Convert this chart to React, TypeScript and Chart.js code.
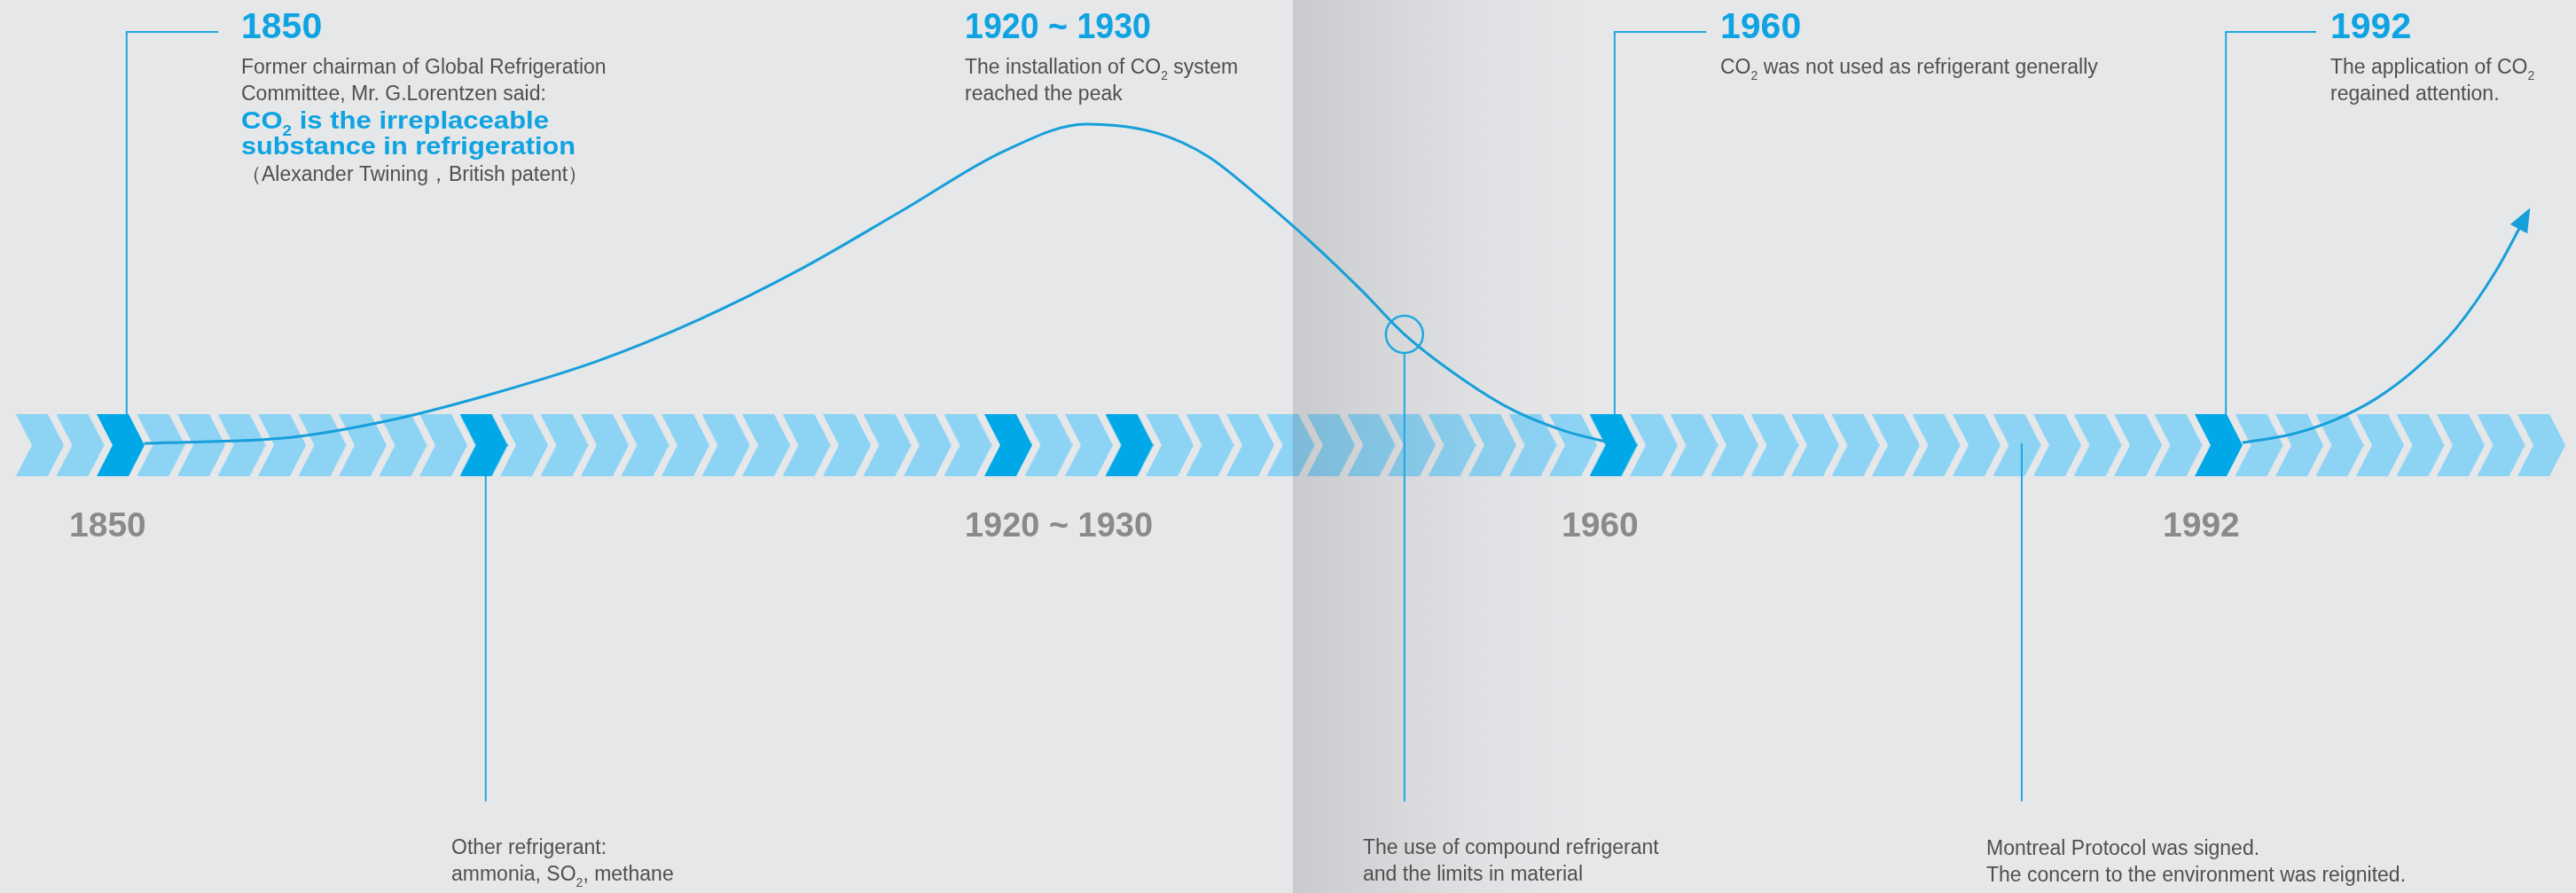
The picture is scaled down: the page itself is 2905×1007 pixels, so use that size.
import React, { useEffect, useRef } from "react";
import { Chart, registerables } from "chart.js";

Chart.register(...registerables);

// ---------------- data ----------------
// x axis unit = one chevron step of the timeline band; y axis unit = "installation level" (0 = timeline)
const CHEVRON_STEPS = [
  0, 1, 2, 3, 4, 5, 6, 7, 8, 9, 10, 11, 12, 13, 14, 15, 16, 17, 18, 19, 20,
  21, 22, 23, 24, 25, 26, 27, 28, 29, 30, 31, 32, 33, 34, 35, 36, 37, 38, 39,
  40, 41, 42, 43, 44, 45, 46, 47, 48, 49, 50, 51, 52, 53, 54, 55, 56, 57, 58,
  59, 60, 61, 62,
];
const HIGHLIGHT_STEPS = [2, 11, 24, 27, 39, 54];

const MILESTONE_LABELS = ["1850", "1920 ~ 1930", "1960", "1992"];

// rise and fall of CO2 use, 1850 -> 1960
const RISE_STEP = [
  2.59, 6.26, 8.77, 11.3, 13.82, 16.35, 18.88, 21.39, 23.91, 25.93, 27.69,
  28.97, 30.22, 31.5, 32.75, 33.82, 35.28, 36.53, 37.8, 38.81,
];
const RISE_LEVEL = [
  0.55, 2.5, 8.0, 16.3, 26.2, 39.2, 55.0, 73.2, 91.7, 100, 97.2, 89.8, 77.3,
  63.3, 48.3, 34.5, 20.4, 10.8, 4.4, 1.1,
];
// revival after 1992
const REVIVAL_STEP = [54.59, 55.78, 56.9, 57.89, 58.86, 59.89, 60.88, 61.69];
const REVIVAL_LEVEL = [0.8, 3.3, 8.0, 14.4, 23.5, 36.5, 54.4, 73.2];

// marked point on the decline (compound refrigerants)
const MARK_STEP = [33.82];
const MARK_LEVEL = [34.5];

// callout leader lines (top)
const CALLOUT_1850_STEP = [2.15, 2.15, 4.42];
const CALLOUT_1960_STEP = [39.03, 39.03, 41.3];
const CALLOUT_1992_STEP = [54.18, 54.18, 56.42];
const CALLOUT_LEVEL = [9.67, 128.7, 128.7];

// drop lines (bottom)
const DROP_OTHER_STEP = [11.05, 11.05];
const DROP_OTHER_LEVEL = [-9.67, -111];
const DROP_COMPOUND_STEP = [33.82, 33.82];
const DROP_COMPOUND_LEVEL = [28.7, -111];
const DROP_MONTREAL_STEP = [49.12, 49.12];
const DROP_MONTREAL_LEVEL = [0.55, -111];

// ---------------- styling ----------------
const W = 2905;
const H = 1007;
const FONT = '"Liberation Sans", Arial, Helvetica, sans-serif';
const BG = "#e5e7e9";
const LIGHT = "#8dd3f4";
const DARK = "#00a8e8";
const CURVE = "#169fda";
const LEADER = "#1ea8e2";
const TITLE_BLUE = "#0fa3e2";
const TEXT_GREY = "#505050";
const YEAR_GREY = "#8a8a8b";

const X_MIN = -45 / 45.5;
const X_MAX = (W - 45) / 45.5;
const Y_MAX = 502 / 3.62;
const Y_MIN = -(H - 502) / 3.62;

const zip = (xs: number[], ys: number[]) => xs.map((x, i) => ({ x, y: ys[i] }));

type TextItem = {
  x: number;
  y: number;
  text: string;
  size: number;
  bold?: boolean;
  color: string;
  fit?: number;
};

const TEXTS: TextItem[] = [
  { x: 272, y: 43, text: MILESTONE_LABELS[0], size: 41, bold: true, color: TITLE_BLUE },
  { x: 272, y: 83, text: "Former chairman of Global Refrigeration", size: 23, color: TEXT_GREY },
  { x: 272, y: 113, text: "Committee, Mr. G.Lorentzen said:", size: 23, color: TEXT_GREY },
  { x: 272, y: 145, text: "CO{2} is the irreplaceable", size: 28, bold: true, color: TITLE_BLUE, fit: 347 },
  { x: 272, y: 174, text: "substance in refrigeration", size: 28, bold: true, color: TITLE_BLUE, fit: 377 },
  { x: 272, y: 204, text: "（Alexander Twining，British patent）", size: 23, color: TEXT_GREY },

  { x: 1088, y: 43, text: MILESTONE_LABELS[1], size: 41, bold: true, color: TITLE_BLUE, fit: 210 },
  { x: 1088, y: 83, text: "The installation of CO{2} system", size: 23, color: TEXT_GREY },
  { x: 1088, y: 113, text: "reached the peak", size: 23, color: TEXT_GREY },

  { x: 1940, y: 43, text: MILESTONE_LABELS[2], size: 41, bold: true, color: TITLE_BLUE },
  { x: 1940, y: 83, text: "CO{2} was not used as refrigerant generally", size: 23, color: TEXT_GREY },

  { x: 2628, y: 43, text: MILESTONE_LABELS[3], size: 41, bold: true, color: TITLE_BLUE },
  { x: 2628, y: 83, text: "The application of CO{2}", size: 23, color: TEXT_GREY },
  { x: 2628, y: 113, text: "regained attention.", size: 23, color: TEXT_GREY },

  { x: 78, y: 605, text: MILESTONE_LABELS[0], size: 39, bold: true, color: YEAR_GREY },
  { x: 1088, y: 605, text: MILESTONE_LABELS[1], size: 39, bold: true, color: YEAR_GREY, fit: 212 },
  { x: 1761, y: 605, text: MILESTONE_LABELS[2], size: 39, bold: true, color: YEAR_GREY },
  { x: 2439, y: 605, text: MILESTONE_LABELS[3], size: 39, bold: true, color: YEAR_GREY },

  { x: 509, y: 963, text: "Other refrigerant:", size: 23, color: TEXT_GREY },
  { x: 509, y: 993, text: "ammonia, SO{2}, methane", size: 23, color: TEXT_GREY },
  { x: 1537, y: 963, text: "The use of compound refrigerant", size: 23, color: TEXT_GREY },
  { x: 1537, y: 993, text: "and the limits in material", size: 23, color: TEXT_GREY },
  { x: 2240, y: 964, text: "Montreal Protocol was signed.", size: 23, color: TEXT_GREY },
  { x: 2240, y: 994, text: "The concern to the environment was reignited.", size: 23, color: TEXT_GREY },
];

function parseSegs(s: string) {
  const out: { t: string; sub: boolean }[] = [];
  const re = /\{([^}]*)\}/g;
  let last = 0;
  let m: RegExpExecArray | null;
  while ((m = re.exec(s))) {
    if (m.index > last) out.push({ t: s.slice(last, m.index), sub: false });
    out.push({ t: m[1], sub: true });
    last = m.index + m[0].length;
  }
  if (last < s.length) out.push({ t: s.slice(last), sub: false });
  return out;
}

function drawText(ctx: CanvasRenderingContext2D, it: TextItem) {
  const segs = parseSegs(it.text);
  const w = it.bold ? "bold" : "normal";
  const mainF = `${w} ${it.size}px ${FONT}`;
  const subF = `${w} ${Math.round(it.size * 0.6)}px ${FONT}`;
  ctx.save();
  ctx.textAlign = "left";
  ctx.textBaseline = "alphabetic";
  ctx.fillStyle = it.color;
  let total = 0;
  const widths = segs.map((sg) => {
    ctx.font = sg.sub ? subF : mainF;
    const mw = ctx.measureText(sg.t).width;
    total += mw;
    return mw;
  });
  const sx = it.fit ? it.fit / total : 1;
  ctx.translate(it.x, it.y);
  ctx.scale(sx, 1);
  let cx = 0;
  segs.forEach((sg, i) => {
    ctx.font = sg.sub ? subF : mainF;
    ctx.fillText(sg.t, cx, sg.sub ? it.size * 0.3 : 0);
    cx += widths[i];
  });
  ctx.restore();
}

function makeChevron(color: string) {
  const c = document.createElement("canvas");
  c.width = 54;
  c.height = 70;
  const g = c.getContext("2d")!;
  g.fillStyle = color;
  g.beginPath();
  g.moveTo(0, 0);
  g.lineTo(36, 0);
  g.lineTo(54, 35);
  g.lineTo(36, 70);
  g.lineTo(0, 70);
  g.lineTo(18, 35);
  g.closePath();
  g.fill();
  return c;
}

export default function App() {
  const ref = useRef<HTMLCanvasElement>(null);

  useEffect(() => {
    const canvas = ref.current;
    if (!canvas) return;
    const light = makeChevron(LIGHT);
    const dark = makeChevron(DARK);

    const leader = (data: { x: number; y: number }[]) => ({
      data,
      showLine: true,
      borderColor: LEADER,
      borderWidth: 2,
      pointRadius: 0,
      tension: 0,
      order: 2,
    });

    const CHEVRON_INDEX = 9;

    const decorPlugin = {
      id: "decor",
      beforeDraw(chart: any) {
        const ctx = chart.ctx;
        ctx.save();
        ctx.fillStyle = BG;
        ctx.fillRect(0, 0, chart.width, chart.height);
        ctx.restore();
      },
      afterDatasetDraw(chart: any, args: any) {
        if (args.index !== CHEVRON_INDEX) return;
        // page fold shadow
        const ctx = chart.ctx;
        const x0 = 1458;
        const x1 = 1790;
        const g = ctx.createLinearGradient(x0, 0, x1, 0);
        g.addColorStop(0, "rgba(40,42,48,0.15)");
        g.addColorStop(0.3, "rgba(40,42,48,0.09)");
        g.addColorStop(0.65, "rgba(40,42,48,0.03)");
        g.addColorStop(1, "rgba(40,42,48,0)");
        ctx.save();
        ctx.fillStyle = g;
        ctx.fillRect(x0, 0, x1 - x0, chart.height);
        ctx.restore();
      },
      afterDatasetsDraw(chart: any) {
        // arrow head at end of revival curve
        const meta = chart.getDatasetMeta(1);
        const pts = meta.data;
        const last = pts[pts.length - 1];
        const prev = pts[pts.length - 2];
        let dx = last.x - (last.cp1x ?? prev.x);
        let dy = last.y - (last.cp1y ?? prev.y);
        const len = Math.hypot(dx, dy) || 1;
        dx /= len;
        dy /= len;
        const ctx = chart.ctx;
        const tipX = last.x + dx * 3;
        const tipY = last.y + dy * 3;
        const bx = tipX - dx * 27;
        const by = tipY - dy * 27;
        const px = -dy;
        const py = dx;
        ctx.save();
        ctx.fillStyle = CURVE;
        ctx.beginPath();
        ctx.moveTo(tipX, tipY);
        ctx.lineTo(bx + px * 11, by + py * 11);
        ctx.lineTo(bx - px * 11, by - py * 11);
        ctx.closePath();
        ctx.fill();
        ctx.restore();
      },
      afterDraw(chart: any) {
        const ctx = chart.ctx;
        TEXTS.forEach((t) => drawText(ctx, t));
      },
    };

    const chart = new Chart(canvas, {
      type: "scatter",
      data: {
        datasets: [
          {
            data: zip(RISE_STEP, RISE_LEVEL),
            showLine: true,
            borderColor: CURVE,
            borderWidth: 3,
            pointRadius: 0,
            cubicInterpolationMode: "monotone",
            order: 1,
          },
          {
            data: zip(REVIVAL_STEP, REVIVAL_LEVEL),
            showLine: true,
            borderColor: CURVE,
            borderWidth: 3,
            pointRadius: 0,
            cubicInterpolationMode: "monotone",
            order: 1,
          },
          {
            data: zip(MARK_STEP, MARK_LEVEL),
            showLine: false,
            pointStyle: "circle",
            pointRadius: 21,
            pointBorderWidth: 2.5,
            pointBorderColor: LEADER,
            pointBackgroundColor: "rgba(0,0,0,0)",
            order: 1,
          },
          leader(zip(CALLOUT_1850_STEP, CALLOUT_LEVEL)),
          leader(zip(CALLOUT_1960_STEP, CALLOUT_LEVEL)),
          leader(zip(CALLOUT_1992_STEP, CALLOUT_LEVEL)),
          leader(zip(DROP_OTHER_STEP, DROP_OTHER_LEVEL)),
          leader(zip(DROP_COMPOUND_STEP, DROP_COMPOUND_LEVEL)),
          leader(zip(DROP_MONTREAL_STEP, DROP_MONTREAL_LEVEL)),
          {
            data: CHEVRON_STEPS.map((s) => ({ x: s, y: 0 })),
            showLine: false,
            pointRadius: 1,
            pointStyle: CHEVRON_STEPS.map((s) =>
              HIGHLIGHT_STEPS.includes(s) ? dark : light
            ) as any,
            order: 10,
          },
        ] as any,
      },
      options: {
        animation: false,
        responsive: false,
        maintainAspectRatio: false,
        devicePixelRatio: 1,
        events: [],
        layout: { padding: 0, autoPadding: false },
        plugins: {
          legend: { display: false },
          tooltip: { enabled: false },
        },
        scales: {
          x: { type: "linear", display: false, min: X_MIN, max: X_MAX },
          y: { type: "linear", display: false, min: Y_MIN, max: Y_MAX },
        },
      } as any,
      plugins: [decorPlugin],
    });

    return () => chart.destroy();
  }, []);

  return (
    <div
      style={{
        position: "fixed",
        left: 0,
        top: 0,
        width: W,
        height: H,
        background: BG,
      }}
    >
      <canvas
        ref={ref}
        width={W}
        height={H}
        style={{ display: "block", width: W, height: H }}
      />
    </div>
  );
}
